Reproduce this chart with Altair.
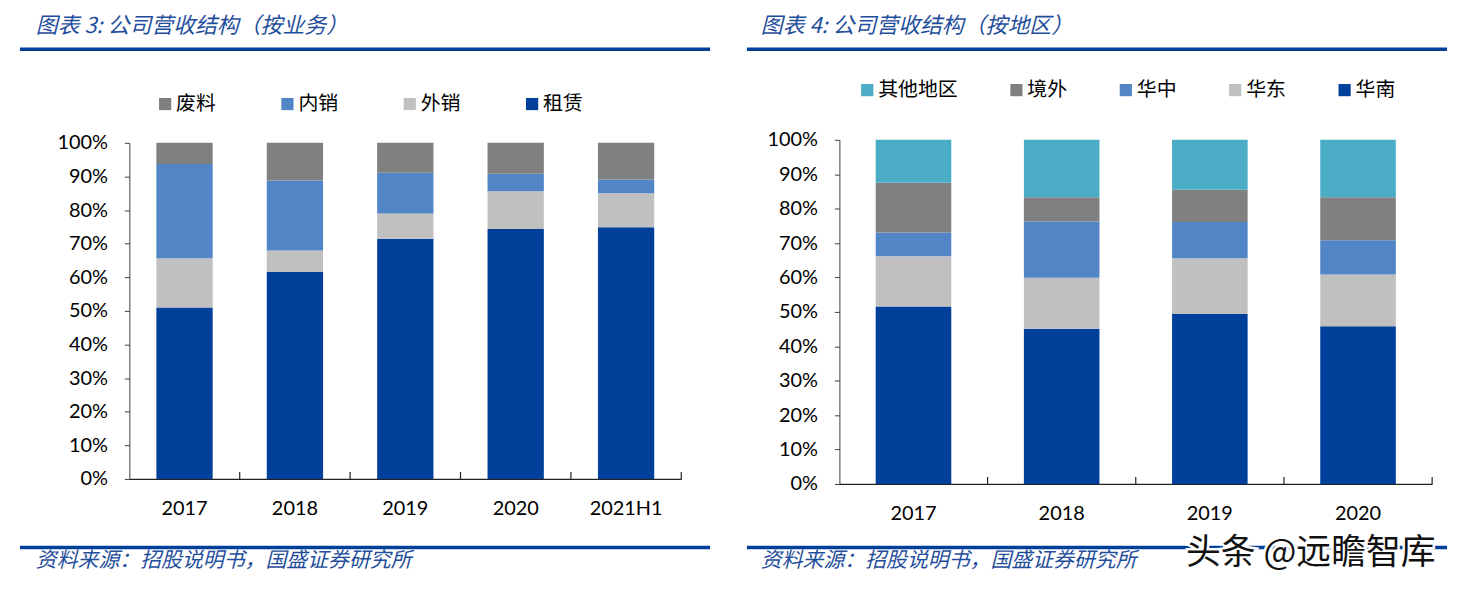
import altair as alt
import pandas as pd

# ---------------- data ----------------
# Left: revenue structure by business
years_l = ["2017", "2018", "2019", "2020", "2021H1"]
biz_series = ["废料", "内销", "外销", "租赁"]          # legend order
biz_stack = ["租赁", "外销", "内销", "废料"]           # bottom -> top
rent = [51.0, 61.6, 71.5, 74.4, 74.9]
export_sales = [14.7, 6.4, 7.5, 11.2, 10.1]
domestic_sales = [28.0, 20.8, 12.1, 5.2, 4.1]
scrap = [6.3, 11.2, 8.9, 9.2, 10.9]
biz_colors = ["#808080", "#5185C5", "#C0C0C0", "#00409A"]

# Right: revenue structure by region
years_r = ["2017", "2018", "2019", "2020"]
region_series = ["其他地区", "境外", "华中", "华东", "华南"]   # legend order
region_stack = ["华南", "华东", "华中", "境外", "其他地区"]     # bottom -> top
south = [51.6, 45.1, 49.4, 45.8]
east = [14.6, 14.8, 16.2, 15.1]
central = [6.9, 16.4, 10.5, 9.9]
overseas = [14.4, 7.0, 9.4, 12.5]
other = [12.5, 16.7, 14.5, 16.7]
region_colors = ["#4BACC6", "#808080", "#5185C5", "#C0C0C0", "#00409A"]

y_ticks = [i / 10 for i in range(11)]

title_l = "图表 3:  公司营收结构（按业务）"
title_r = "图表 4:  公司营收结构（按地区）"
source_txt = "资料来源：招股说明书，国盛证券研究所"
watermark = "头条 @远瞻智库"

# ---------------- build tables ----------------
biz_vals = {"租赁": rent, "外销": export_sales, "内销": domestic_sales, "废料": scrap}
rows = []
for s in biz_stack:
    for y, v in zip(years_l, biz_vals[s]):
        rows.append({"year": y, "series": s, "value": v, "ord": biz_stack.index(s)})
df_l = pd.DataFrame(rows)

reg_vals = {"华南": south, "华东": east, "华中": central, "境外": overseas, "其他地区": other}
rows = []
for s in region_stack:
    for y, v in zip(years_r, reg_vals[s]):
        rows.append({"year": y, "series": s, "value": v, "ord": region_stack.index(s)})
df_r = pd.DataFrame(rows)

CJK = "Noto Sans CJK SC"
NUM = "Lato"
BLUE_LINE = "#00409A"
TITLE_BLUE = "#1F4E9C"
AXIS_COL = "#404040"


def panel(df, years, series, colors, W, H, y_range, legend_x, legend_y, col_pad,
          title, title_xy, rule_x, rule_top, rule_bot, src_xy, extra=None):
    xenc = alt.X("year:N", sort=years, title=None,
                 scale=alt.Scale(paddingInner=0, paddingOuter=0),
                 axis=alt.Axis(labelAngle=0, labelFont=NUM, labelFontSize=20,
                               labelColor="#000", labelPadding=20, tickSize=0,
                               domainColor="#222", domainWidth=1.2))
    bars = alt.Chart(df).mark_bar(width=alt.RelativeBandSize(0.51)).encode(
        x=xenc,
        y=alt.Y("value:Q", stack="normalize", title=None,
                scale=alt.Scale(domain=[0, 1], range=y_range),
                axis=alt.Axis(values=y_ticks, format=".0%", grid=False,
                              labelFont=NUM, labelFontSize=20, labelColor="#000",
                              labelPadding=17, tickSize=5, tickColor=AXIS_COL,
                              domainColor=AXIS_COL)),
        color=alt.Color("series:N", sort=series,
                        scale=alt.Scale(domain=series, range=colors),
                        legend=alt.Legend(orient="none", legendX=legend_x, legendY=legend_y,
                                          direction="horizontal", columns=len(series),
                                          title=None, symbolType="square", symbolSize=150,
                                          symbolStrokeWidth=0, labelFont=CJK,
                                          labelFontSize=20, labelColor="#000",
                                          labelOffset=1, columnPadding=col_pad, padding=0)),
        order=alt.Order("ord:Q", sort="ascending"),
    )
    xticks = alt.Chart(pd.DataFrame({"year": years})).mark_rule(
        color="#222", strokeWidth=1.2).encode(
        x=alt.X("year:N", sort=years, bandPosition=1),
        y=alt.value(H), y2=alt.value(H - 7))
    one = pd.DataFrame({"a": [0]})
    guard = alt.Chart(one).mark_rule(color="#ffffff", strokeWidth=1).encode(
        x=alt.value(0), x2=alt.value(10), y=alt.value(-130))
    rtop = alt.Chart(one).mark_rule(color=BLUE_LINE, strokeWidth=3.5).encode(
        x=alt.value(rule_x[0]), x2=alt.value(rule_x[1]), y=alt.value(rule_top))
    rbot = alt.Chart(one).mark_rule(color=BLUE_LINE, strokeWidth=3.5).encode(
        x=alt.value(rule_x[0]), x2=alt.value(rule_x[1]), y=alt.value(rule_bot))
    ttl = alt.Chart(pd.DataFrame({"t": [title]})).mark_text(
        align="left", baseline="middle", font=CJK, fontSize=22, fontStyle="italic",
        color=TITLE_BLUE).encode(text="t:N", x=alt.value(title_xy[0]), y=alt.value(title_xy[1]))
    src = alt.Chart(pd.DataFrame({"t": [source_txt]})).mark_text(
        align="left", baseline="middle", font=CJK, fontSize=21, fontStyle="italic",
        color=TITLE_BLUE).encode(text="t:N", x=alt.value(src_xy[0]), y=alt.value(src_xy[1]))
    layers = [bars, xticks, guard, rtop, rbot, ttl, src]
    if extra is not None:
        layers += extra
    return alt.layer(*layers).properties(width=W, height=H)


# both panels share the same origin row (y = 139 in the picture)
left = panel(df_l, years_l, biz_series, biz_colors, 555, 341, [341, 3],
             legend_x=26, legend_y=-46, col_pad=62,
             title=title_l, title_xy=(-94, -114),
             rule_x=(-110, 584), rule_top=-91, rule_bot=410, src_xy=(-94, 424))

wm_df = pd.DataFrame({"t": [watermark]})
wm_halo = alt.Chart(wm_df).mark_text(
    align="center", baseline="middle", font=CJK, fontSize=35, color="#fff",
    stroke="#fff", strokeWidth=5).encode(text="t:N", x=alt.value(474), y=alt.value(415))
wm_txt = alt.Chart(wm_df).mark_text(
    align="center", baseline="middle", font=CJK, fontSize=35, color="#111").encode(
    text="t:N", x=alt.value(474), y=alt.value(415))

right = panel(df_r, years_r, region_series, region_colors, 596, 346, [346, 0],
              legend_x=18, legend_y=-60, col_pad=49,
              title=title_r, title_xy=(-79, -114),
              rule_x=(-93, 611), rule_top=-91, rule_bot=410, src_xy=(-79, 424),
              extra=[wm_halo, wm_txt])

chart = alt.hconcat(left, right, spacing=33).resolve_scale(
    color="independent", x="independent", y="independent"
).properties(
    padding={"left": 10, "top": 0, "right": 5, "bottom": 5}
).configure_view(stroke=None)

chart.save("out.html", embed_options={"renderer": "svg", "actions": False})
